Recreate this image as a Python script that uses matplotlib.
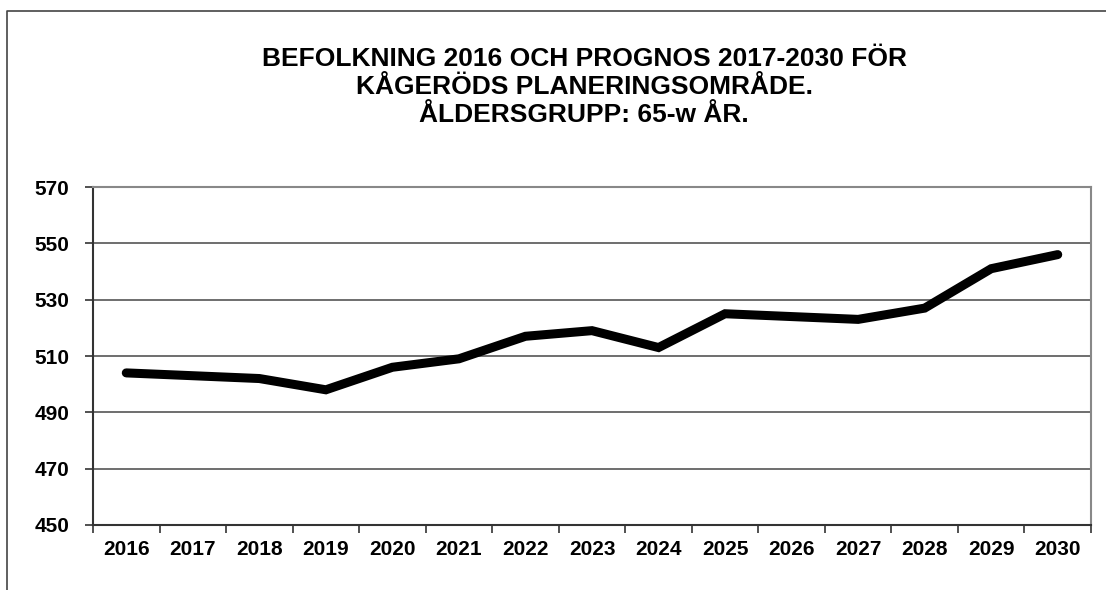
import matplotlib
matplotlib.use("Agg")
import matplotlib.pyplot as plt
from matplotlib.lines import Line2D
import numpy as np

years = ["2016", "2017", "2018", "2019", "2020", "2021", "2022", "2023",
         "2024", "2025", "2026", "2027", "2028", "2029", "2030"]
values = [504, 503, 502, 498, 506, 509, 517, 519, 513, 525, 524, 523, 527, 541, 546]
y_ticks = [450, 470, 490, 510, 530, 550, 570]
title_lines = ["BEFOLKNING 2016 OCH PROGNOS 2017-2030 FÖR",
               "KÅGERÖDS PLANERINGSOMRÅDE.",
               "ÅLDERSGRUPP: 65-w ÅR."]

plt.rcParams['font.family'] = ['Liberation Sans', 'DejaVu Sans']

W, H = 1106, 590
fig = plt.figure(figsize=(W / 100, H / 100), dpi=100)
ax = fig.add_axes([93 / W, 1 - 525 / H, (1091 - 93) / W, (525 - 187) / H])

x = np.arange(len(years))
ax.plot(x, values, color='black', lw=6.5, solid_capstyle='round', solid_joinstyle='miter', zorder=3)

ax.set_xlim(-0.5, len(years) - 0.5)
ax.set_ylim(450, 570)
ax.set_yticks(y_ticks)
ax.set_yticklabels([str(v) for v in y_ticks], fontsize=15, fontweight='bold')
ax.set_xticks(x)
ax.set_xticklabels(years, fontsize=15, fontweight='bold')
ax.set_xticks(np.arange(-0.5, len(years)), minor=True)
ax.tick_params(axis='x', which='major', length=0, pad=11)
ax.tick_params(axis='x', which='minor', length=6, width=1.2, color='#333333')
ax.tick_params(axis='y', length=6, width=1.2, color='#333333', pad=11)

for v in y_ticks[1:-1]:
    ax.axhline(v, color='#555555', lw=1.2, zorder=1)

ax.spines['left'].set_color('#333333')
ax.spines['bottom'].set_color('#333333')
ax.spines['left'].set_linewidth(1.5)
ax.spines['bottom'].set_linewidth(1.5)
ax.spines['top'].set_color('#888888')
ax.spines['right'].set_color('#888888')
ax.spines['top'].set_linewidth(1.5)
ax.spines['right'].set_linewidth(1.5)

for line, yc in zip(title_lines, [57, 84.5, 112]):
    fig.text(584 / W, 1 - yc / H, line, ha='center', va='center_baseline',
             fontsize=19, fontweight='bold')

# outer frame (left and top edges visible)
fig.add_artist(Line2D([7 / W, 7 / W, 1.0], [0.0, 1 - 11 / H, 1 - 11 / H],
                      transform=fig.transFigure, color='#444444', lw=1.2))

fig.savefig("out.png", dpi=100)
